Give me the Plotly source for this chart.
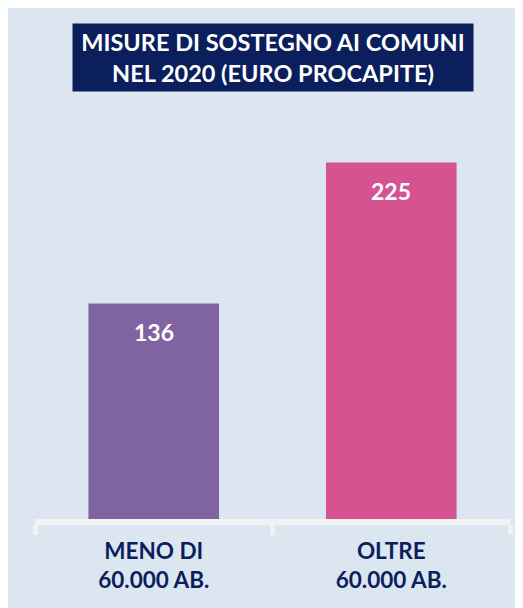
import plotly.graph_objects as go

categories = ["MENO DI<br>60.000 AB.", "OLTRE<br>60.000 AB."]
values = [136, 225]
bar_colors = ["#8064A2", "#D55391"]
title_text = "MISURE DI SOSTEGNO AI COMUNI<br>NEL 2020 (EURO PROCAPITE)"

W, H = 523, 608
NAVY = "#0B1F5C"
BG = "#DCE6F1"
FONT = "Lato"

ml, mr, mt, mb = 27, 21, 92, 97
plot_w = W - ml - mr
plot_h = H - mt - mb
ymax = plot_h / 1.585


def px_to_paper(xp, yp):
    return (xp - ml) / plot_w, (H - mb - yp) / plot_h


fig = go.Figure()
fig.add_trace(go.Bar(
    x=categories, y=values, marker=dict(color=bar_colors, line=dict(width=0)),
    width=0.55, hoverinfo="skip",
))

# value labels inside bars
for c, v in zip(categories, values):
    fig.add_annotation(x=c, y=v, xref="x", yref="y", yshift=-29, yanchor="middle",
                       text=f"<b>{v}</b>", showarrow=False,
                       font=dict(family=FONT, size=23, color="white"))

# title box
tx, ty = px_to_paper(265, 50)
fig.add_annotation(x=tx, y=ty, xref="paper", yref="paper",
                   xanchor="center", yanchor="middle", text=f"<b>{title_text}</b>",
                   showarrow=False, width=400, height=67, bgcolor=NAVY, borderpad=0,
                   font=dict(family=FONT, size=23.5, color="white"))

fig.update_layout(
    width=W, height=H,
    margin=dict(l=ml, r=mr, t=mt, b=mb, pad=0),
    paper_bgcolor=BG, plot_bgcolor="rgba(0,0,0,0)",
    showlegend=False,
    xaxis=dict(
        showline=True, linecolor="#F2F2F2", linewidth=6,
        ticks="outside", tickson="boundaries", ticklen=10, tickwidth=5, tickcolor="#F2F2F2",
        showgrid=False, zeroline=False,
        tickfont=dict(family=FONT, size=22.5, color=NAVY),
        ticktext=[f"<b>{c}</b>" for c in categories], tickvals=categories,
        ticklabelstandoff=7,
    ),
    yaxis=dict(range=[0, ymax], visible=False, showgrid=False, zeroline=False),
)

fig.write_html("out.html")
